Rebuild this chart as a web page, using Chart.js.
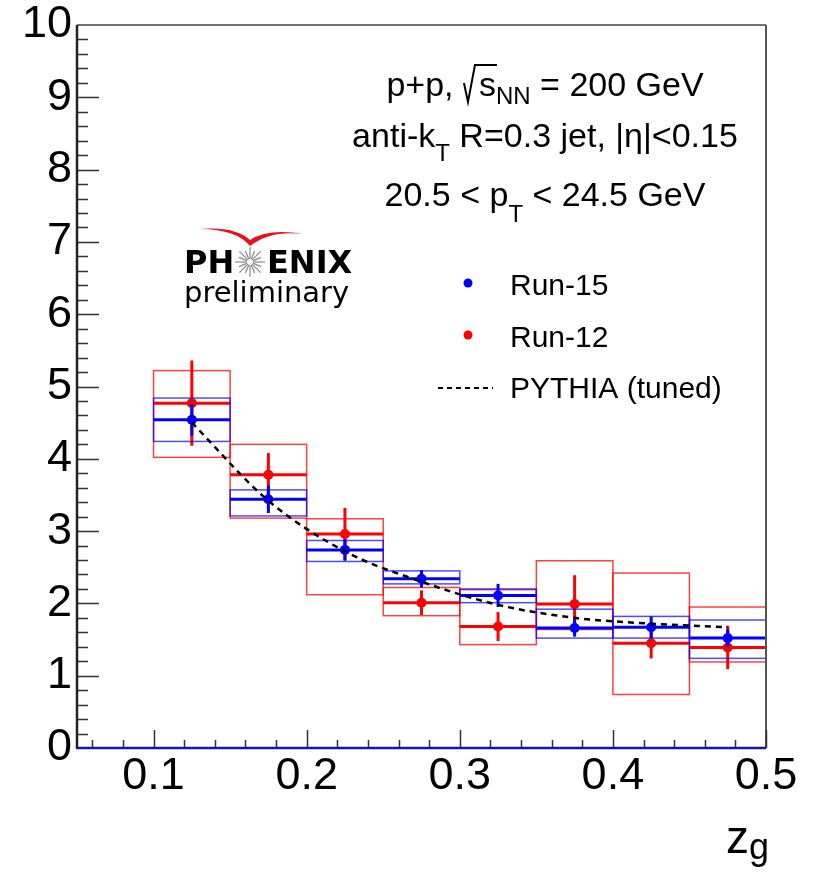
<!DOCTYPE html>
<html><head><meta charset="utf-8">
<script src="https://cdn.jsdelivr.net/npm/chart.js@4.4.1/dist/chart.umd.min.js"></script>
<style>html,body{margin:0;padding:0;background:#fff}#wrap{width:815px;height:872px;position:relative}canvas{display:block}</style>
</head><body><div id="wrap"><canvas id="c" width="815" height="872"></canvas></div>
<script>
// ---- data ----
const binEdges = [0.10, 0.15, 0.20, 0.25, 0.30, 0.35, 0.40, 0.45, 0.50];
const zgCenters = [0.125, 0.175, 0.225, 0.275, 0.325, 0.375, 0.425, 0.475];
const run15 = [4.54, 3.44, 2.74, 2.34, 2.11, 1.66, 1.67, 1.52];
const run15Stat = [0.22, 0.19, 0.15, 0.12, 0.16, 0.12, 0.15, 0.12];
const run15SysHi = [4.84, 3.57, 2.87, 2.45, 2.20, 1.92, 1.82, 1.77];
const run15SysLo = [4.24, 3.21, 2.58, 2.27, 2.01, 1.52, 1.52, 1.24];
const run12 = [4.77, 3.78, 2.96, 2.01, 1.68, 1.99, 1.45, 1.39];
const run12Stat = [0.59, 0.30, 0.36, 0.17, 0.20, 0.40, 0.21, 0.30];
const run12SysHi = [5.22, 4.20, 3.17, 2.22, 2.19, 2.59, 2.42, 1.95];
const run12SysLo = [4.02, 3.18, 2.12, 1.83, 1.43, 1.64, 0.74, 1.19];
const pythia = [4.50, 3.42, 2.72, 2.30, 1.98, 1.80, 1.72, 1.67];
const yTickValues = [0, 1, 2, 3, 4, 5, 6, 7, 8, 9, 10];
const xTickValues = [0.1, 0.2, 0.3, 0.4, 0.5];

const FONT = '"Liberation Sans", Arial, Helvetica, sans-serif';

const errPlugin = {
  id: 'errPlugin',
  beforeDatasetDraw(chart, args) {
    const ds = chart.data.datasets[args.index];
    if (!ds.err) return;
    const e = ds.err, xs = chart.scales.x, ys = chart.scales.y, ctx = chart.ctx, ca = chart.chartArea;
    ctx.save();
    ctx.beginPath(); ctx.rect(ca.left, ca.top, ca.right - ca.left, ca.bottom - ca.top); ctx.clip();
    for (let i = 0; i < e.val.length; i++) {
      const x0 = xs.getPixelForValue(binEdges[i]), x1 = xs.getPixelForValue(binEdges[i + 1]);
      const xc = xs.getPixelForValue(zgCenters[i]);
      const yh = ys.getPixelForValue(e.hi[i]), yl = ys.getPixelForValue(e.lo[i]);
      ctx.strokeStyle = e.boxColor; ctx.lineWidth = 1.5;
      ctx.strokeRect(x0, yh, x1 - x0, yl - yh);
      const yv = ys.getPixelForValue(e.val[i]);
      ctx.strokeStyle = e.color; ctx.lineWidth = 3;
      ctx.beginPath(); ctx.moveTo(x0, yv); ctx.lineTo(x1, yv); ctx.stroke();
      ctx.beginPath();
      ctx.moveTo(xc, ys.getPixelForValue(e.val[i] + e.stat[i]));
      ctx.lineTo(xc, ys.getPixelForValue(e.val[i] - e.stat[i]));
      ctx.stroke();
    }
    ctx.restore();
  }
};

function richText(ctx, parts, x, y, align) {
  let w = 0;
  parts.forEach(p => { ctx.font = p.font; p.w = p.gap !== undefined ? p.gap : ctx.measureText(p.t).width; w += p.w; });
  let cx = align === 'center' ? x - w / 2 : x;
  parts.forEach(p => {
    if (p.draw) p.draw(ctx, cx, y, p.w);
    else { ctx.font = p.font; ctx.fillText(p.t, cx, y + (p.dy || 0)); }
    cx += p.w;
  });
}

const decoPlugin = {
  id: 'deco',
  afterDraw(chart) {
    const ctx = chart.ctx, xs = chart.scales.x, ys = chart.scales.y, ca = chart.chartArea;
    ctx.save();
    ctx.lineCap = 'butt';
    // frame
    ctx.strokeStyle = '#444'; ctx.lineWidth = 1.5;
    ctx.beginPath(); ctx.moveTo(ca.left, ca.top); ctx.lineTo(ca.right, ca.top); ctx.stroke();
    ctx.strokeStyle = '#555'; ctx.lineWidth = 2;
    ctx.beginPath(); ctx.moveTo(ca.right, ca.top); ctx.lineTo(ca.right, ca.bottom); ctx.stroke();
    // y ticks (inward)
    ctx.strokeStyle = '#333'; ctx.lineWidth = 1.5;
    for (let k = 1; k < 50; k++) {
      const v = k * 0.2, py = Math.round(ys.getPixelForValue(v)) + 0.5;
      const len = (k % 5 === 0) ? 22 : 11;
      ctx.beginPath(); ctx.moveTo(ca.left, py); ctx.lineTo(ca.left + len, py); ctx.stroke();
    }
    // x ticks (inward)
    for (let k = 3; k <= 25; k++) {
      const v = k * 0.02, px = Math.round(xs.getPixelForValue(v)) + 0.5;
      const len = (k % 5 === 0) ? 18 : 8;
      ctx.beginPath(); ctx.moveTo(px, ca.bottom); ctx.lineTo(px, ca.bottom - len); ctx.stroke();
    }
    // left axis
    ctx.strokeStyle = '#222'; ctx.lineWidth = 2.5;
    ctx.beginPath(); ctx.moveTo(ca.left, ca.top); ctx.lineTo(ca.left, ca.bottom + 1); ctx.stroke();
    // bottom (blue zero line)
    ctx.strokeStyle = '#1414b4'; ctx.lineWidth = 2.5;
    ctx.beginPath(); ctx.moveTo(ca.left, ca.bottom); ctx.lineTo(ca.right, ca.bottom); ctx.stroke();

    // axis title z_g
    ctx.fillStyle = '#000'; ctx.textBaseline = 'alphabetic'; ctx.textAlign = 'left';
    ctx.font = '46px ' + FONT; ctx.fillText('z', 726, 853);
    ctx.font = '36px ' + FONT; ctx.fillText('g', 749, 859);

    // annotation
    const F = '34px ' + FONT, FS = '24px ' + FONT;
    richText(ctx, [
      {t: 'p+p, ', font: F},
      {gap: 16, font: F, draw: (c, x, y) => {
        c.save(); c.strokeStyle = '#000'; c.lineWidth = 2; c.lineJoin = 'miter';
        c.beginPath(); c.moveTo(x + 1, y - 13); c.lineTo(x + 5, y + 6); c.lineTo(x + 12, y - 31);
        c.lineTo(x + 34, y - 31); c.stroke(); c.restore(); }},
      {t: 's', font: F},
      {t: 'NN', font: FS, dy: 8},
      {t: ' = 200 GeV', font: F}
    ], 545, 96, 'center');
    richText(ctx, [
      {t: 'anti-k', font: F},
      {t: 'T', font: FS, dy: 14},
      {t: ' R=0.3 jet, |η|<0.15', font: F}
    ], 545, 147, 'center');
    richText(ctx, [
      {t: '20.5 < p', font: F},
      {t: 'T', font: FS, dy: 16},
      {t: ' < 24.5 GeV', font: F}
    ], 545, 206, 'center');

    // legend
    ctx.font = '30px ' + FONT;
    ctx.fillStyle = '#0000ff'; ctx.beginPath(); ctx.arc(468, 283, 4.5, 0, Math.PI * 2); ctx.fill();
    ctx.fillStyle = '#ff0000'; ctx.beginPath(); ctx.arc(468, 335, 4.5, 0, Math.PI * 2); ctx.fill();
    ctx.strokeStyle = '#000'; ctx.lineWidth = 2; ctx.setLineDash([5, 4]);
    ctx.beginPath(); ctx.moveTo(438, 388); ctx.lineTo(493, 388); ctx.stroke(); ctx.setLineDash([]);
    ctx.fillStyle = '#000';
    ctx.fillText('Run-15', 510, 295);
    ctx.fillText('Run-12', 510, 347);
    ctx.fillText('PYTHIA (tuned)', 510, 398);

    // PHENIX logo
    ctx.font = 'bold 32px "DejaVu Sans", sans-serif';
    ctx.fillStyle = '#000';
    ctx.fillText('PH', 184, 273);
    ctx.fillText('ENIX', 267, 273);
    ctx.strokeStyle = '#8a8a8a'; ctx.lineWidth = 1.2;
    for (let a = 0; a < 16; a++) {
      const th = a * Math.PI / 8;
      const r1 = 3, r2 = (a % 2) ? 12 : 15;
      ctx.beginPath();
      ctx.moveTo(250 + r1 * Math.cos(th), 262 + r1 * Math.sin(th));
      ctx.lineTo(250 + r2 * Math.cos(th), 262 + r2 * Math.sin(th));
      ctx.stroke();
    }
    ctx.fillStyle = '#e8101a';
    ctx.beginPath();
    ctx.moveTo(199, 229);
    ctx.quadraticCurveTo(235, 226, 250, 240);
    ctx.quadraticCurveTo(268, 228, 304, 234);
    ctx.quadraticCurveTo(270, 230, 250, 246);
    ctx.quadraticCurveTo(236, 229, 199, 229);
    ctx.fill();
    ctx.fillStyle = '#000';
    ctx.font = '29px "DejaVu Sans", sans-serif';
    ctx.fillText('preliminary', 184, 302);
    ctx.restore();
  }
};

const chart = new Chart(document.getElementById('c'), {
  type: 'scatter',
  data: {
    datasets: [
      {
        label: 'PYTHIA (tuned)',
        data: zgCenters.map((x, i) => ({x, y: pythia[i]})),
        showLine: true, borderColor: '#000', borderWidth: 2.5, borderDash: [6, 5],
        pointRadius: 0, cubicInterpolationMode: 'monotone', fill: false
      },
      {
        label: 'Run-15',
        data: zgCenters.map((x, i) => ({x, y: run15[i]})),
        pointRadius: 5, pointBackgroundColor: '#0000ff', pointBorderColor: '#0000ff', pointBorderWidth: 0,
        err: {val: run15, stat: run15Stat, hi: run15SysHi, lo: run15SysLo, color: '#0000ff', boxColor: 'rgba(0,0,255,0.7)'}
      },
      {
        label: 'Run-12',
        data: zgCenters.map((x, i) => ({x, y: run12[i]})),
        pointRadius: 5, pointBackgroundColor: '#ff0000', pointBorderColor: '#ff0000', pointBorderWidth: 0,
        err: {val: run12, stat: run12Stat, hi: run12SysHi, lo: run12SysLo, color: '#ff0000', boxColor: 'rgba(255,0,0,0.75)'}
      }
    ]
  },
  options: {
    responsive: false, animation: false, devicePixelRatio: 1,
    layout: {padding: {top: 25, right: 49, bottom: 0, left: 0}},
    plugins: {legend: {display: false}, tooltip: {enabled: false}},
    scales: {
      x: {
        type: 'linear', min: 0.05, max: 0.5,
        grid: {display: false, drawTicks: false, tickLength: 0},
        border: {display: false},
        ticks: {autoSkip: false, maxRotation: 0, padding: 2, color: '#000',
          font: {family: FONT, size: 45, lineHeight: 1.2},
          callback: v => v.toFixed(1)},
        afterBuildTicks: s => { s.ticks = xTickValues.map(v => ({value: v})); },
        afterFit: s => { s.height = 124; s.paddingLeft = 0; s.paddingRight = 0; }
      },
      y: {
        type: 'linear', min: 0, max: 10,
        grid: {display: false, drawTicks: false, tickLength: 0},
        border: {display: false},
        ticks: {autoSkip: false, padding: 5, color: '#000',
          font: {family: FONT, size: 45, lineHeight: 1.2},
          callback: v => String(v)},
        afterBuildTicks: s => { s.ticks = yTickValues.map(v => ({value: v})); },
        afterFit: s => { s.width = 77; s.paddingTop = 0; s.paddingBottom = 0; }
      }
    }
  },
  plugins: [errPlugin, decoPlugin]
});
</script></body></html>
